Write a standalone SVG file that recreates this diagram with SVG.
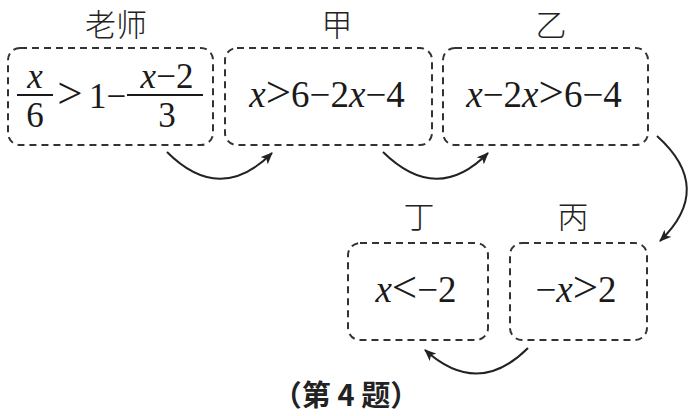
<svg xmlns="http://www.w3.org/2000/svg" width="690" height="416" viewBox="0 0 690 416">
<defs>
<marker id="ah" viewBox="0 0 12 10" refX="11" refY="5" markerWidth="12" markerHeight="10" markerUnits="userSpaceOnUse" orient="auto">
<path d="M0,0 L12,5 L0,10 L3,5 Z" fill="#222"/>
</marker>
<style>
.box{fill:none;stroke:#333;stroke-width:2;stroke-dasharray:7 5}
.lbl{font-family:'Noto Sans CJK SC','Noto Sans',sans-serif;font-size:31px;font-weight:300;fill:#222;text-anchor:middle}
.m{font-family:'Liberation Serif','Times New Roman',serif;font-size:37px;fill:#1a1a1a}
.f{font-family:'Liberation Serif','Times New Roman',serif;font-size:35px;fill:#1a1a1a}
.i{font-style:italic}
.rel{font-size:45px}
.bar{stroke:#1a1a1a;stroke-width:1.8}
.arr{fill:none;stroke:#222;stroke-width:2;marker-end:url(#ah)}
.cap{font-family:'Noto Sans CJK SC','Noto Sans',sans-serif;font-size:29px;font-weight:700;fill:#222;text-anchor:middle}
</style>
</defs>

<g id="node-teacher">
<text class="lbl" x="116" y="36">老师</text>
<rect class="box" x="8" y="48" width="205" height="97" rx="12"/>
<text class="f i" x="35" y="88" text-anchor="middle">x</text>
<line class="bar" x1="17" y1="95" x2="53" y2="95"/>
<text class="f" x="35" y="127" text-anchor="middle">6</text>
<text class="f rel" x="70" y="108" text-anchor="middle">&gt;</text>
<text class="f" x="89" y="108">1−</text>
<line class="bar" x1="127" y1="95" x2="203" y2="95"/>
<text class="f" x="167" y="88" text-anchor="middle"><tspan class="i">x</tspan>−2</text>
<text class="f" x="167" y="127" text-anchor="middle">3</text>
</g>

<g id="node-jia">
<text class="lbl" x="337" y="36">甲</text>
<rect class="box" x="225" y="48" width="207" height="97" rx="12"/>
<text class="m" x="327" y="107" text-anchor="middle"><tspan class="i">x</tspan><tspan class="rel">&gt;</tspan>6−2<tspan class="i">x</tspan>−4</text>
</g>

<g id="node-yi">
<text class="lbl" x="551" y="36">乙</text>
<rect class="box" x="443" y="48" width="205" height="97" rx="12"/>
<text class="m" x="544" y="107" text-anchor="middle"><tspan class="i">x</tspan>−2<tspan class="i">x</tspan><tspan class="rel">&gt;</tspan>6−4</text>
</g>

<g id="node-bing">
<text class="lbl" x="573" y="228">丙</text>
<rect class="box" x="510" y="243" width="137" height="97" rx="12"/>
<text class="m" x="576" y="302" text-anchor="middle">−<tspan class="i">x</tspan><tspan class="rel">&gt;</tspan>2</text>
</g>

<g id="node-ding">
<text class="lbl" x="419" y="228">丁</text>
<rect class="box" x="348" y="243" width="140" height="97" rx="12"/>
<text class="m" x="416" y="302" text-anchor="middle"><tspan class="i">x</tspan><tspan class="rel">&lt;</tspan>−2</text>
</g>

<g id="connectors">
<path class="arr" d="M167,152 Q220,205 272,153"/>
<path class="arr" d="M383,152 Q437,205 488,153"/>
<path class="arr" d="M657,136 Q715,188 660,241"/>
<path class="arr" d="M528,348 Q478,398 425,350"/>
</g>

<text class="cap" x="346" y="406">（第 4 题）</text>
</svg>
